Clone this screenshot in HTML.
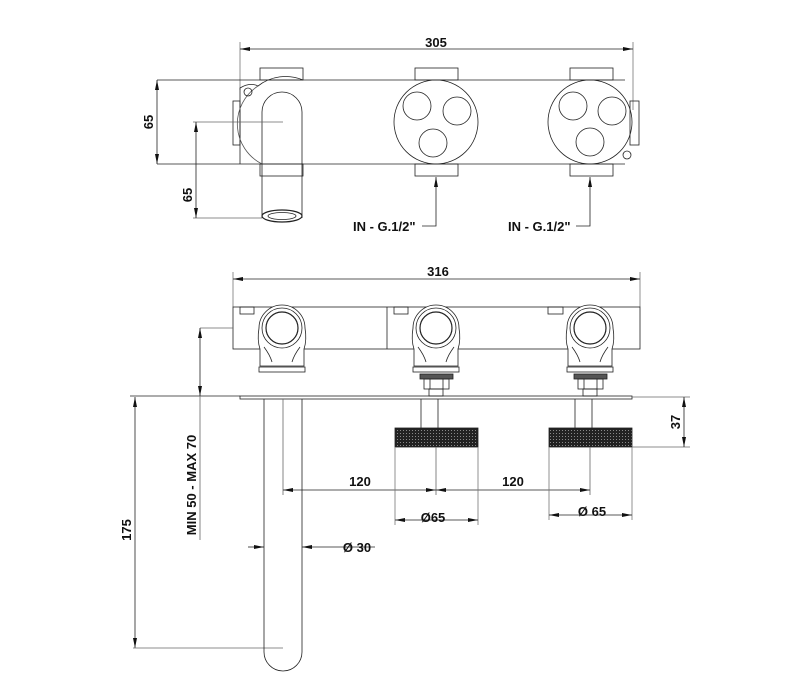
<!DOCTYPE html>
<html><head><meta charset="utf-8"><style>
html,body{margin:0;padding:0;background:#fff;}
svg{display:block;}
text{font-family:"Liberation Sans",Arial,sans-serif;font-weight:bold;font-size:13px;fill:#111;}
</style></head><body>
<svg width="807" height="693" viewBox="0 0 807 693" xmlns="http://www.w3.org/2000/svg">
<defs>
<marker id="a" viewBox="0 0 10 4" refX="10" refY="2" markerWidth="10" markerHeight="4" orient="auto-start-reverse" markerUnits="userSpaceOnUse"><path d="M0,0 L10,2 L0,4z" fill="#111"/></marker>
<pattern id="k" width="3" height="3" patternUnits="userSpaceOnUse"><rect width="3" height="3" fill="#222"/><rect x="1" y="1" width="1" height="1" fill="#888"/></pattern>
</defs>
<g fill="none" stroke="#222" stroke-width="0.8">
<line x1="240" y1="42" x2="240" y2="90" stroke="#777"/>
<line x1="633" y1="42" x2="633" y2="110" stroke="#777"/>
<line x1="240" y1="49" x2="633" y2="49" marker-start="url(#a)" marker-end="url(#a)"/>
<line x1="157" y1="80" x2="625" y2="80"/>
<line x1="157" y1="164" x2="625" y2="164"/>
<line x1="157" y1="80" x2="157" y2="164" marker-start="url(#a)" marker-end="url(#a)"/>
<rect x="260" y="68" width="43" height="12"/><rect x="415" y="68" width="43" height="12"/><rect x="570" y="68" width="43" height="12"/>
<rect x="260" y="164" width="43" height="12"/><rect x="415" y="164" width="43" height="12"/><rect x="570" y="164" width="43" height="12"/>
<rect x="233" y="101" width="7" height="44"/><rect x="630" y="101" width="9" height="44"/>
<path d="M240,164 L240,88 Q250,82 258,86 A45,45 0 0 1 303,80"/>
<path d="M258,86 A45,45 0 0 0 262,164" stroke="#555"/>
<circle cx="248" cy="92" r="4"/>
<path d="M262,218 L262,112 A20,20 0 0 1 302,112 L302,218"/>
<ellipse cx="282" cy="216" rx="20" ry="6" stroke-width="1.2"/>
<ellipse cx="282" cy="216" rx="14" ry="3.5"/>
<line x1="193" y1="122" x2="283" y2="122" stroke="#666"/>
<line x1="193" y1="218" x2="262" y2="218" stroke="#666"/>
<line x1="196" y1="122" x2="196" y2="218" marker-start="url(#a)" marker-end="url(#a)"/>
<circle cx="436" cy="122" r="42"/><circle cx="417" cy="106" r="14"/><circle cx="457" cy="111" r="14"/><circle cx="433" cy="143" r="14"/>
<circle cx="590" cy="122" r="42"/><circle cx="573" cy="106" r="14"/><circle cx="612" cy="111" r="14"/><circle cx="590" cy="142" r="14"/>
<circle cx="627" cy="155" r="4"/>
<path d="M422,226 L436,226 L436,177" marker-end="url(#a)"/>
<path d="M576,226 L590,226 L590,177" marker-end="url(#a)"/>
<line x1="233" y1="272" x2="233" y2="307" stroke="#777"/>
<line x1="640" y1="272" x2="640" y2="307" stroke="#777"/>
<line x1="233" y1="279" x2="640" y2="279" marker-start="url(#a)" marker-end="url(#a)"/>
<rect x="233" y="307" width="407" height="42"/>
<line x1="387" y1="307" x2="387" y2="349"/>
<rect x="240" y="307" width="14" height="7"/><rect x="394" y="307" width="14" height="7"/><rect x="548" y="307" width="15" height="7"/>
<g id="v">
<path d="M260,349 Q257,340 259,328 A23,23 0 0 1 305,328 Q307,340 304,349 L304,366 L260,366Z" fill="#fff"/>
<circle cx="282" cy="328" r="20"/><circle cx="282" cy="328" r="16" stroke-width="1.2"/>
<path d="M264,347 Q270,355 272,362 M300,347 Q294,355 292,362"/>
<rect x="259" y="367" width="46" height="5"/>
</g>
<use href="#v" transform="translate(154,0)"/>
<use href="#v" transform="translate(308,0)"/>
<g id="s"><rect x="420" y="374" width="33" height="5" fill="#555"/><rect x="424" y="379" width="25" height="10"/><line x1="430" y1="379" x2="430" y2="389"/><line x1="443" y1="379" x2="443" y2="389"/><rect x="429" y="389" width="14" height="7"/></g>
<use href="#s" transform="translate(154,0)"/>
<line x1="130" y1="396" x2="240" y2="396"/>
<rect x="240" y="396" width="392" height="3"/>
<line x1="632" y1="397" x2="690" y2="397" stroke="#666"/>
<line x1="200" y1="328" x2="233" y2="328" stroke="#666"/>
<line x1="200" y1="328" x2="200" y2="396" marker-start="url(#a)" marker-end="url(#a)"/>
<line x1="200" y1="396" x2="200" y2="540" stroke="#666"/>
<line x1="135" y1="397" x2="135" y2="648" marker-start="url(#a)" marker-end="url(#a)"/>
<line x1="133" y1="648" x2="283" y2="648" stroke="#666"/>
<path d="M264,399 L264,652 A19,19 0 0 0 302,652 L302,399"/>
<line x1="283" y1="399" x2="283" y2="495" stroke="#666"/>
<line x1="421" y1="399" x2="421" y2="428"/><line x1="438" y1="399" x2="438" y2="428"/>
<line x1="575" y1="399" x2="575" y2="428"/><line x1="592" y1="399" x2="592" y2="428"/>
<rect x="395" y="428" width="83" height="19" fill="url(#k)" stroke="#222"/>
<rect x="549" y="428" width="83" height="19" fill="url(#k)" stroke="#222"/>
<line x1="436" y1="447" x2="436" y2="495" stroke="#666"/>
<line x1="590" y1="447" x2="590" y2="495" stroke="#666"/>
<line x1="283" y1="490" x2="436" y2="490" marker-start="url(#a)" marker-end="url(#a)"/>
<line x1="436" y1="490" x2="590" y2="490" marker-start="url(#a)" marker-end="url(#a)"/>
<line x1="395" y1="447" x2="395" y2="525" stroke="#777"/><line x1="478" y1="447" x2="478" y2="525" stroke="#777"/>
<line x1="549" y1="447" x2="549" y2="520" stroke="#777"/><line x1="632" y1="447" x2="632" y2="520" stroke="#777"/>
<line x1="395" y1="520" x2="478" y2="520" marker-start="url(#a)" marker-end="url(#a)"/>
<line x1="549" y1="515" x2="632" y2="515" marker-start="url(#a)" marker-end="url(#a)"/>
<line x1="248" y1="547" x2="264" y2="547" marker-end="url(#a)"/>
<line x1="375" y1="547" x2="302" y2="547" marker-end="url(#a)"/>
<line x1="632" y1="447" x2="690" y2="447" stroke="#666"/>
<line x1="684" y1="397" x2="684" y2="447" marker-start="url(#a)" marker-end="url(#a)"/>
</g>
<text x="436" y="47" text-anchor="middle">305</text>
<text transform="translate(157,122) rotate(-90)" text-anchor="middle" y="-4">65</text>
<text transform="translate(196,195) rotate(-90)" text-anchor="middle" y="-4">65</text>
<text x="353" y="231">IN - G.1/2"</text>
<text x="508" y="231">IN - G.1/2"</text>
<text x="438" y="276" text-anchor="middle">316</text>
<text transform="translate(135,530) rotate(-90)" text-anchor="middle" y="-4">175</text>
<text transform="translate(200,485) rotate(-90)" text-anchor="middle" y="-4">MIN 50 - MAX 70</text>
<text x="360" y="486" text-anchor="middle">120</text>
<text x="513" y="486" text-anchor="middle">120</text>
<text x="433" y="522" text-anchor="middle">Ø65</text>
<text x="592" y="516" text-anchor="middle">Ø 65</text>
<text x="357" y="552" text-anchor="middle">Ø  30</text>
<text transform="translate(684,422) rotate(-90)" text-anchor="middle" y="-4">37</text>
</svg>
</body></html>
